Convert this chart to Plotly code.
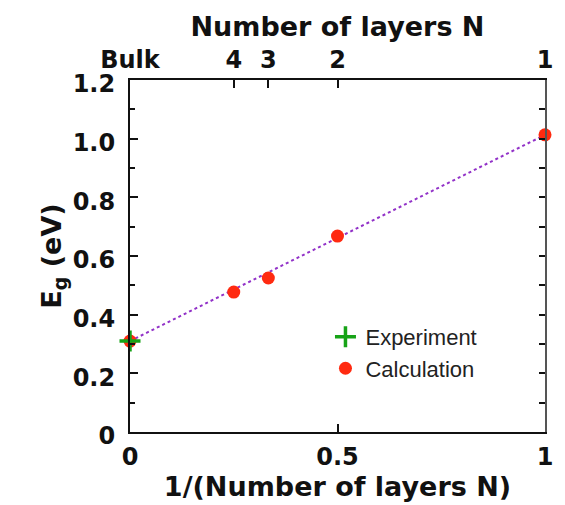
import plotly.graph_objects as go

# Inverse layer number (0 = bulk) and band gaps in eV
inv_n_calc = [0.0, 0.25, 1 / 3, 0.5, 1.0]
eg_calc = [0.31, 0.477, 0.525, 0.668, 1.013]
inv_n_exp = [0.0]
eg_exp = [0.31]
fit_x = [0.0, 1.0]
fit_y = [0.31, 1.013]

top_tick_vals = [0.0, 0.25, 1 / 3, 0.5, 1.0]
top_tick_text = ["Bulk", "4", "3", "2", "1"]
bottom_tick_vals = [0.0, 0.5, 1.0]
bottom_tick_text = ["0", "0.5", "1"]
y_tick_vals = [0, 0.2, 0.4, 0.6, 0.8, 1.0, 1.2]
y_tick_text = ["0", "0.2", "0.4", "0.6", "0.8", "1.0", "1.2"]
right_tick_vals = [round(0.1 * i, 1) for i in range(13)]

bold_font = "DejaVu Sans, sans-serif"
plain_font = "Liberation Sans, Arial, sans-serif"

fig = go.Figure()
fig.add_trace(go.Scatter(
    x=fit_x, y=fit_y, mode="lines",
    line=dict(color="#9232c8", width=2, dash="dot"),
    showlegend=False, hoverinfo="skip",
))
fig.add_trace(go.Scatter(
    x=inv_n_calc, y=eg_calc, mode="markers", name="Calculation",
    marker=dict(color="#ff2a10", size=13, symbol="circle"),
    cliponaxis=False,
))
fig.add_trace(go.Scatter(
    x=inv_n_exp, y=eg_exp, mode="markers", name="Experiment",
    marker=dict(color="#17a317", size=15, symbol="cross-thin",
                line=dict(color="#17a317", width=3.5)),
    cliponaxis=False,
))
# Invisible trace carrying the top axis and the right axis ticks
fig.add_trace(go.Scatter(
    x=[0, 1], y=[0, 1.2], xaxis="x2", yaxis="y2", mode="markers",
    marker=dict(opacity=0), showlegend=False, hoverinfo="skip",
))

axis_line = dict(showline=True, linecolor="#111", linewidth=2,
                 showgrid=False, zeroline=False, ticks="inside",
                 tickcolor="#111", tickwidth=2)
tick_font = dict(family=bold_font, size=24, weight="bold", color="#111")
title_font = dict(family=bold_font, size=27, weight="bold", color="#111")

fig.update_layout(
    width=565, height=505,
    margin=dict(l=130, r=17, t=80, b=73),
    paper_bgcolor="white", plot_bgcolor="white",
    font=dict(family=plain_font, color="#111"),
    xaxis=dict(
        range=[0, 1], tickvals=bottom_tick_vals, ticktext=bottom_tick_text,
        ticklen=8, tickfont=tick_font, ticklabelstandoff=2,
        title=dict(text="1/(Number of layers N)", font=title_font,
                   standoff=2),
        **axis_line,
    ),
    xaxis2=dict(
        range=[0, 1], overlaying="x", side="top", anchor="y",
        tickvals=top_tick_vals, ticktext=top_tick_text,
        ticklen=8, tickfont=tick_font, ticklabelstandoff=0,
        title=dict(text="Number of layers N", font=title_font,
                   standoff=2),
        **axis_line,
    ),
    yaxis=dict(
        range=[0, 1.2], tickvals=y_tick_vals, ticktext=y_tick_text,
        ticklen=8, tickfont=tick_font, ticklabelstandoff=8,
        ticklabelshift=4,
        minor=dict(tickvals=right_tick_vals, ticks="inside", ticklen=5,
                   tickcolor="#111", tickwidth=2),
        title=dict(text="E<sub>g</sub> (eV)", font=title_font,
                   standoff=3),
        **axis_line,
    ),
    yaxis2=dict(
        range=[0, 1.2], overlaying="y", side="right", anchor="x",
        tickvals=right_tick_vals, showticklabels=False, ticklen=6,
        **{**axis_line, "linecolor": "#555"},
    ),
    legend=dict(
        x=0.471, y=0.33, xanchor="left", yanchor="top",
        traceorder="reversed", bgcolor="rgba(0,0,0,0)",
        font=dict(family=plain_font, size=22, color="#222"),
        itemwidth=30, tracegroupgap=0,
    ),
)

fig.write_html("out.html")
